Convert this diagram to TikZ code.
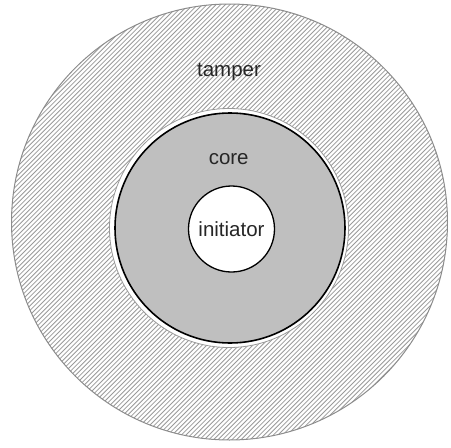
\documentclass[tikz,border=0pt]{standalone}
\usepackage{fontspec}
\setmainfont{Liberation Sans}
\begin{document}
\begin{tikzpicture}[x=1pt,y=-1pt,
  hatch/.style={draw=black!40, line width=0.8pt},
  lbl/.style={anchor=base, text=black!85, inner sep=0pt, font=\fontsize{20.5}{24}\selectfont},
  ring/.style={circle, inner sep=0pt}]
\useasboundingbox (0,0) rectangle (451,448);
% tamper (hatched)
\coordinate (c0) at (229.5,222);
\begin{scope}
  \clip (c0) circle (218);
  \foreach \c in {-470,-465.4,...,470} {
    \draw[hatch] (\c,470) -- (\c+470,0);
  }
\end{scope}
\draw[black!45, line width=1pt] (c0) circle (218);
% gap ring
\node[ring, draw=black!40, line width=0.8pt, fill=white, minimum size=239pt] (gap) at (229,228) {};
% core
\node[ring, draw=black, line width=1.6pt, fill=black!25, minimum size=230pt] (core) at (230,228) {};
% initiator
\node[ring, draw=black, line width=1.3pt, fill=white, minimum size=86pt, text=black!85, font=\fontsize{20.5}{24}\selectfont] (init) at (231.5,229) {initiator};
% labels
\node[lbl] (tamperlbl) at (229,76.5) {tamper};
\node[lbl] (corelbl) at (228.7,164) {core};
\end{tikzpicture}
\end{document}
